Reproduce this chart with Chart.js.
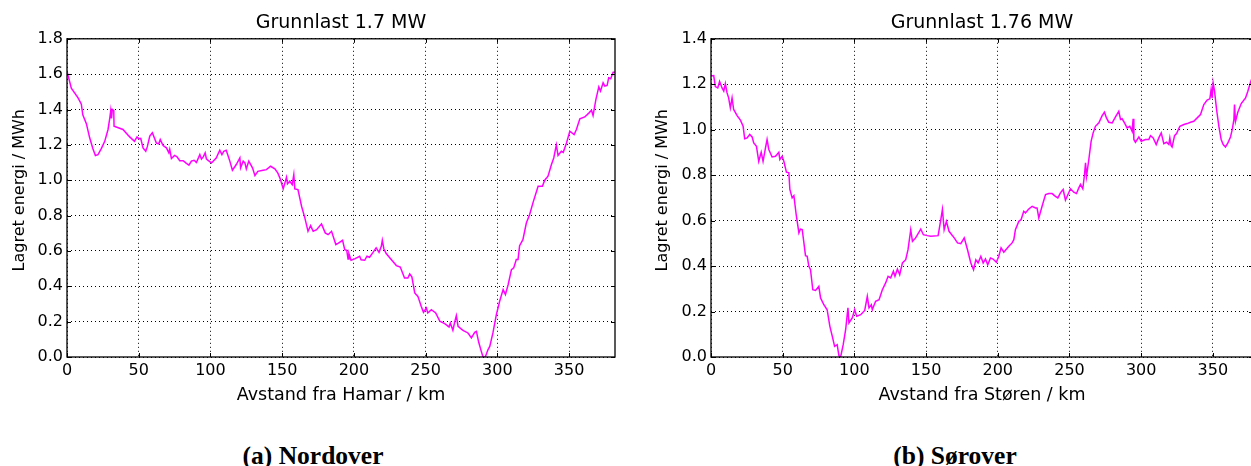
<!DOCTYPE html>
<html>
<head>
<meta charset="utf-8">
<script src="https://cdn.jsdelivr.net/npm/chart.js@4.4.0/dist/chart.umd.min.js"></script>
<style>
  html, body { margin: 0; padding: 0; background: #fff; overflow: hidden; width: 1251px; height: 466px; }
  canvas { position: absolute; top: 0; }
  #nord { left: 0; }
  #sor { left: 643px; }
  .caption { position: absolute; top: 441px; font-family: "Liberation Serif", serif; font-weight: bold; font-size: 25.5px; transform: translateX(-50%); white-space: nowrap; }
</style>
</head>
<body>
<canvas id="nord" width="630" height="420"></canvas>
<canvas id="sor" width="610" height="420"></canvas>
<div class="caption" style="left:313px">(a) Nordover</div>
<div class="caption" style="left:955px">(b) Sørover</div>
<script>
// Nordover: avstand fra Hamar (km) og lagret energi (MWh)
const nordKm = [0, 3, 7.7, 10, 11, 13.5, 15.8, 18, 19.8, 21.6, 24, 26.3, 28.6, 29.8, 30.5, 31, 31.6, 32.6, 32.8, 39,
  43.7, 47, 48.8, 50.2, 51.4, 53, 54.9, 56, 57.7, 59.5, 62.3, 64, 65, 67, 69.3, 71, 71.6, 72.8, 75, 76.7,
  78.6, 81, 82.8, 85, 86.7, 88.6, 90.2, 92.6, 93.7, 95, 96.3, 97.2, 100.7, 104, 106.5, 108, 109.3, 111, 113.5, 115.3,
  118, 120.5, 121, 122.8, 124, 125, 126.7, 129.3, 131, 133, 136.7, 139, 141.9, 144.9, 147, 148.8, 150.7, 151.9, 153, 153.7,
  155.3, 157, 158.1, 158.8, 161, 163.5, 165.8, 168, 169.8, 171.6, 174, 177.4, 180, 182, 184.4, 187.4, 190, 192.1, 193.6, 195,
  195.9, 196.5, 198, 200.5, 204, 205, 207.5, 209.1, 210.9, 213.1, 215.5, 217.5, 219.1, 219.8, 220.9, 222.5, 226, 229.6, 232.3, 235.3,
  237.6, 238.9, 240.4, 242.4, 244.6, 246.9, 248.5, 250.5, 251.5, 254, 257, 259.9, 263.3, 266.3, 267.2, 269, 270.2, 271.4, 272.6, 276,
  279.5, 281.9, 284.2, 285.4, 287, 288.8, 290, 291.6, 293.5, 294.7, 296.9, 299.3, 301.6, 304, 305.6, 307.5, 309.8, 311.4, 313.2, 314.4,
  315.5, 317.8, 320.2, 322.5, 324.8, 328.4, 331.4, 333, 335.3, 337.7, 339.3, 341.1, 342.3, 344.6, 345.9, 348.2, 350.5, 353.5, 355.1, 357.5,
  360.9, 363.9, 365.6, 366.7, 368.7, 370.7, 371.9, 373.7, 374.9, 376.5, 377.6, 379, 380.7, 382];
const nordEnergi = [1.617, 1.52, 1.466, 1.43, 1.37, 1.32, 1.24, 1.18, 1.14, 1.145, 1.18, 1.22, 1.287, 1.35, 1.394, 1.35, 1.40, 1.394, 1.306, 1.287,
  1.245, 1.22, 1.245, 1.234, 1.236, 1.183, 1.164, 1.19, 1.25, 1.268, 1.21, 1.206, 1.23, 1.196, 1.183, 1.155, 1.175, 1.123, 1.14, 1.132,
  1.11, 1.11, 1.098, 1.085, 1.108, 1.113, 1.10, 1.145, 1.12, 1.132, 1.155, 1.12, 1.098, 1.126, 1.17, 1.145, 1.164, 1.17, 1.108, 1.057,
  1.089, 1.126, 1.07, 1.108, 1.098, 1.064, 1.108, 1.07, 1.026, 1.05, 1.057, 1.06, 1.079, 1.064, 1.04, 1.004, 0.951, 0.985, 1.017, 0.98,
  0.994, 0.975, 1.032, 0.951, 0.947, 0.853, 0.787, 0.711, 0.743, 0.711, 0.72, 0.753, 0.702, 0.692, 0.711, 0.636, 0.649, 0.66, 0.607, 0.604,
  0.555, 0.585, 0.547, 0.555, 0.57, 0.55, 0.547, 0.57, 0.564, 0.589, 0.617, 0.592, 0.626, 0.66, 0.611, 0.585, 0.551, 0.517, 0.509, 0.447,
  0.447, 0.47, 0.453, 0.362, 0.343, 0.287, 0.253, 0.277, 0.249, 0.268, 0.249, 0.202, 0.189, 0.17, 0.192, 0.151, 0.196, 0.234, 0.174, 0.151,
  0.136, 0.108, 0.14, 0.145, 0.083, 0.032, 0.0, 0.0, 0.042, 0.06, 0.136, 0.24, 0.315, 0.381, 0.353, 0.409, 0.494, 0.504, 0.551, 0.551,
  0.63, 0.664, 0.758, 0.806, 0.872, 0.966, 0.966, 1.0, 1.023, 1.089, 1.126, 1.2, 1.14, 1.164, 1.158, 1.211, 1.277, 1.258, 1.287, 1.347,
  1.358, 1.381, 1.396, 1.366, 1.457, 1.528, 1.504, 1.551, 1.532, 1.536, 1.579, 1.574, 1.611, 1.611];

// Sørover: avstand fra Støren (km) og lagret energi (MWh)
const sorKm = [0, 1.9, 3, 4.7, 6, 7.7, 8.9, 10, 11.2, 12.3, 13.5, 14.7, 15.8, 18.2, 20.5, 22.4, 23.5, 25.2, 27, 28.7,
  29.8, 31.7, 33.3, 35, 36.3, 38, 39.1, 40.3, 42.6, 45, 47.3, 48, 49.6, 50.8, 52.6, 54.3, 55, 56.6, 57.8, 59.4,
  61.3, 62.4, 63.6, 64.8, 65.9, 67.1, 68.2, 69.4, 71, 72.9, 75.2, 76.4, 78.7, 81, 82.9, 84.6, 86.2, 88, 89.2, 90.4,
  92.2, 93.9, 95.5, 96.2, 98.5, 100.2, 101.6, 104.4, 107.2, 109, 110.2, 111.8, 112.5, 114.8, 117.2, 119.5, 121.8, 123.5, 125.3, 127.2,
  128.3, 130, 131.6, 133.5, 135.8, 137.4, 139.3, 140.5, 142.7, 146.3, 148.1, 150.9, 153.3, 158.4, 160.3, 161.4, 162.6, 164.2, 166, 169.6,
  171.9, 174.2, 176.6, 178.9, 181.2, 183.1, 184.7, 186.3, 188.2, 189.8, 191.4, 193, 194.9, 196.7, 199, 200.7, 202.3, 204.2, 207.7, 210,
  211.2, 212.3, 214.7, 216.3, 218.1, 219.3, 221.6, 224, 226.3, 227.4, 228.6, 230.9, 233.3, 235.6, 237.9, 240.2, 241.9, 243.7, 245.6, 247.2,
  248.4, 250.7, 253, 254.9, 256.5, 257.7, 259.3, 260.5, 261.2, 261.9, 263.5, 265.1, 266.5, 268.1, 270.5, 272.8, 274.4, 275.8, 277.4, 279.8,
  282.1, 284.4, 285.6, 286.7, 288.4, 290.2, 292.1, 293.7, 294.4, 294.9, 296, 298.4, 300, 303, 305.3, 306.5, 308.4, 310.5, 312.3, 314,
  315.8, 317.7, 319.3, 320, 320.9, 321.6, 323.3, 324.7, 327, 329.8, 332.1, 334.4, 336.7, 339.1, 341.4, 343.7, 346, 347.9, 348.8, 349.5,
  350.2, 351.2, 352.6, 354.2, 355.8, 357.2, 358.8, 360.5, 362.3, 363.5, 364.7, 365.1, 365.8, 367.4, 369.8, 372.8, 374.4, 376.3, 378];
const sorEnergi = [1.236, 1.238, 1.19, 1.184, 1.213, 1.184, 1.17, 1.203, 1.162, 1.14, 1.096, 1.14, 1.089, 1.062, 1.042, 1.015, 0.96, 0.964, 0.979, 0.968,
  0.942, 0.927, 0.861, 0.901, 0.861, 0.92, 0.957, 0.913, 0.88, 0.883, 0.901, 0.869, 0.883, 0.861, 0.813, 0.81, 0.737, 0.70, 0.71, 0.627,
  0.546, 0.563, 0.561, 0.502, 0.446, 0.443, 0.40, 0.384, 0.296, 0.293, 0.311, 0.26, 0.23, 0.208, 0.135, 0.091, 0.047, 0.054, 0.006, 0.0,
  0.054, 0.12, 0.216, 0.15, 0.172, 0.208, 0.179, 0.186, 0.205, 0.267, 0.216, 0.23, 0.208, 0.245, 0.252, 0.296, 0.326, 0.355, 0.348, 0.377,
  0.355, 0.387, 0.362, 0.414, 0.428, 0.472, 0.56, 0.509, 0.524, 0.563, 0.538, 0.534, 0.531, 0.534, 0.605, 0.649, 0.56, 0.597, 0.553, 0.524,
  0.502, 0.499, 0.524, 0.472, 0.414, 0.384, 0.428, 0.414, 0.443, 0.414, 0.431, 0.406, 0.436, 0.431, 0.417, 0.443, 0.48, 0.461, 0.487, 0.502,
  0.516, 0.56, 0.597, 0.605, 0.641, 0.634, 0.651, 0.663, 0.656, 0.656, 0.612, 0.663, 0.715, 0.719, 0.719, 0.707, 0.70, 0.722, 0.737, 0.69,
  0.707, 0.74, 0.725, 0.719, 0.744, 0.759, 0.74, 0.803, 0.854, 0.795, 0.869, 0.949, 0.986, 1.015, 1.03, 1.062, 1.077, 1.052, 1.033, 1.03,
  1.056, 1.081, 1.045, 1.048, 1.03, 1.008, 1.015, 0.993, 1.048, 0.957, 0.945, 0.968, 0.949, 0.957, 0.957, 0.974, 0.964, 0.935, 0.964, 0.986,
  0.939, 0.945, 0.935, 0.964, 0.93, 0.924, 0.974, 0.983, 1.015, 1.023, 1.027, 1.033, 1.037, 1.052, 1.067, 1.111, 1.13, 1.136, 1.177, 1.14,
  1.206, 1.169, 1.089, 1.015, 0.957, 0.935, 0.924, 0.942, 0.968, 1.0, 1.045, 1.111, 1.037, 1.077, 1.115, 1.14, 1.169, 1.209, 1.24];

const titler = ['Grunnlast 1.7 MW', 'Grunnlast 1.76 MW'];
const xTitler = ['Avstand fra Hamar / km', 'Avstand fra Støren / km'];
// ledende mellomrom løfter teksten litt, som i originalen
const yTittel = '\u00a0\u00a0\u00a0Lagret energi / MWh';

// ramme rundt plottet og korte tikk innover, som i matplotlib
const ramme = {
  id: 'ramme',
  afterDraw(chart) {
    const {ctx, chartArea: a, scales} = chart;
    ctx.save();
    ctx.strokeStyle = '#000';
    ctx.lineWidth = 1;
    ctx.beginPath();
    scales.x.ticks.forEach(t => {
      const px = Math.round(scales.x.getPixelForValue(t.value)) + 0.5;
      ctx.moveTo(px, a.bottom); ctx.lineTo(px, a.bottom - 4);
      ctx.moveTo(px, a.top); ctx.lineTo(px, a.top + 4);
    });
    scales.y.ticks.forEach(t => {
      const py = Math.round(scales.y.getPixelForValue(t.value)) + 0.5;
      ctx.moveTo(a.left, py); ctx.lineTo(a.left + 4, py);
      ctx.moveTo(a.right, py); ctx.lineTo(a.right - 4, py);
    });
    ctx.stroke();
    ctx.lineWidth = 1.3;
    ctx.strokeRect(a.left, a.top, a.right - a.left, a.bottom - a.top);
    ctx.restore();
  }
};

function lagGraf(id, km, energi, tittel, xTittel, xMax, yMax, yBredde, hoyrePad) {
  const font = 'DejaVu Sans';
  new Chart(document.getElementById(id), {
    type: 'line',
    data: {
      datasets: [{
        data: km.map((x, i) => ({x: x, y: energi[i]})),
        borderColor: '#ff00ff',
        borderWidth: 1.5,
        pointRadius: 0,
        tension: 0,
        fill: false
      }]
    },
    options: {
      responsive: false,
      animation: false,
      layout: { padding: {left: 0, right: hoyrePad, top: 0, bottom: 0} },
      plugins: {
        legend: { display: false },
        tooltip: { enabled: false },
        title: {
          display: true,
          fullSize: false,  // sentrert over selve plottet
          text: tittel,
          color: '#000',
          font: { family: font, size: 19, weight: 'normal' },
          padding: { top: 12, bottom: 4 }
        }
      },
      scales: {
        x: {
          type: 'linear',
          min: 0,
          max: xMax,
          afterFit: s => { s.height = 63; },
          ticks: { stepSize: 50, includeBounds: false, autoSkip: false, maxRotation: 0, padding: 4,
                   color: '#000', font: { family: font, size: 16 } },
          grid: { color: '#000', lineWidth: 1, drawTicks: false },
          border: { display: false, dash: [1, 3] },
          title: { display: true, text: xTittel, color: '#000', font: { family: font, size: 17.5 },
                   padding: { top: 0, bottom: 14 } }
        },
        y: {
          min: 0,
          max: yMax,
          afterFit: s => { s.width = yBredde; },
          ticks: { stepSize: 0.2, autoSkip: false, padding: 4, color: '#000',
                   font: { family: font, size: 16 }, callback: v => v.toFixed(1) },
          grid: { color: '#000', lineWidth: 1, drawTicks: false },
          border: { display: false, dash: [1, 3] },
          title: { display: true, text: yTittel, color: '#000', font: { family: font, size: 16 },
                   padding: { top: 10, bottom: 0 } }
        }
      }
    },
    plugins: [ramme]
  });
}

lagGraf('nord', nordKm, nordEnergi, titler[0], xTitler[0], 382, 1.8, 67, 15);
lagGraf('sor', sorKm, sorEnergi, titler[1], xTitler[1], 378, 1.4, 68, 0);
</script>
</body>
</html>
